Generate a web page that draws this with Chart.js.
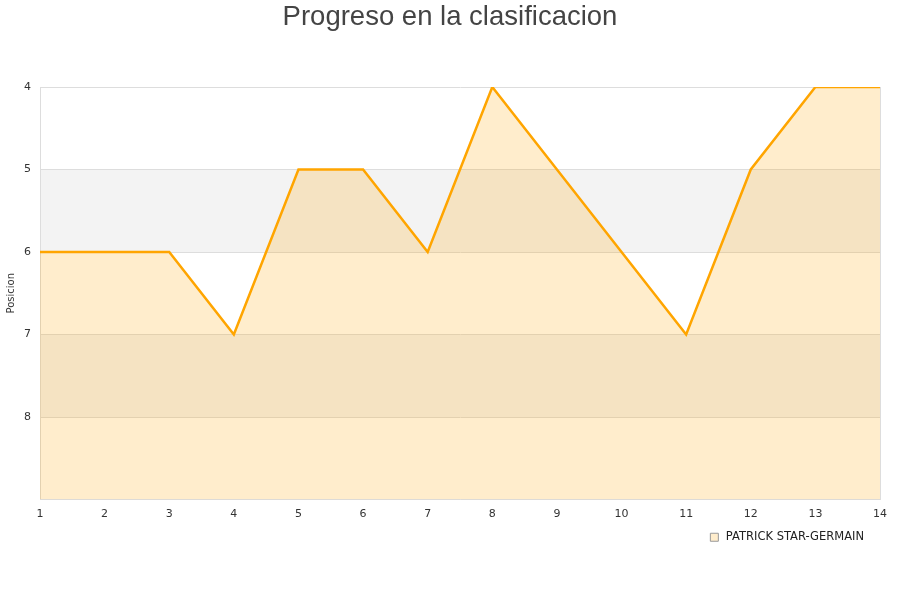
<!DOCTYPE html>
<html><head><meta charset="utf-8">
<script src="https://cdn.jsdelivr.net/npm/chart.js@4/dist/chart.umd.min.js"></script>
<style>html,body{margin:0;padding:0;background:#fff}#w{width:900px;height:600px}</style>
</head><body><div id="w"><canvas id="c" width="900" height="600"></canvas></div>
<script>
const jornadas = [1,2,3,4,5,6,7,8,9,10,11,12,13,14];
const posiciones = [6,6,6,7,5,5,6,4,5,6,7,5,4,4];
const yTicks = [4,5,6,7,8];
const bandas = [[5,6],[7,8]];
const equipo = 'PATRICK STAR-GERMAIN';
const titulo = 'Progreso en la clasificacion';
const ejeY = 'Posicion';

const bandPlugin = {
  id:'bands',
  afterLayout(chart){
    const lg = chart.legend;
    if (lg) { lg.right = lg.right - 28; lg.width = lg.right - lg.left; }
  },
  beforeDraw(chart){
    const {ctx, chartArea:a, scales:{y}} = chart;
    ctx.save();
    ctx.fillStyle = '#f3f3f3';
    bandas.forEach(([f,t])=>{
      const y1 = y.getPixelForValue(f), y2 = y.getPixelForValue(t);
      ctx.fillRect(a.left, Math.min(y1,y2), a.right-a.left, Math.abs(y2-y1));
    });
    ctx.restore();
  },
  afterDraw(chart){
    const {ctx, chartArea:a} = chart;
    ctx.save();
    ctx.strokeStyle = '#dddddd'; ctx.lineWidth = 1;
    ctx.beginPath(); ctx.moveTo(a.right+0.5, a.top); ctx.lineTo(a.right+0.5, a.bottom); ctx.stroke();
    ctx.restore();
  }
};

new Chart(document.getElementById('c'), {
  type:'line',
  data:{
    labels: jornadas,
    datasets:[{
      label: equipo,
      data: jornadas.map((x,i)=>({x, y: posiciones[i]})),
      borderColor:'#FFA500',
      backgroundColor:'rgba(255,165,0,0.2)',
      borderWidth:2.5,
      fill:'start',
      pointRadius:0,
      tension:0,
      yAxisID:'y'
    }]
  },
  options:{
    responsive:false,
    animation:false,
    layout:{padding:{left:0,right:0,top:0,bottom:47}},
    plugins:{
      title:{display:true,text:titulo,color:'#444',font:{family:'Liberation Sans',size:27.5,weight:'normal'},padding:{top:1,bottom:53}},
      legend:{position:'bottom',align:'end',
        labels:{boxWidth:16,boxHeight:8,usePointStyle:true,color:'#222',font:{family:'DejaVu Sans',size:11.5},padding:8,
          generateLabels:(chart)=>chart.data.datasets.map((d,i)=>({
            text:d.label, fillStyle:'rgba(255,165,0,0.2)', strokeStyle:'#999999', lineWidth:1,
            pointStyle:'rect', hidden:false, datasetIndex:i, fontColor:'#222'
          }))
        }},
      tooltip:{enabled:false}
    },
    scales:{
      x:{type:'linear',min:1,max:14,
        ticks:{stepSize:1,color:'#333',font:{family:'DejaVu Sans',size:11},padding:0},
        grid:{display:false},
        border:{display:true,color:'#dddddd'},
        afterFit(s){s.height=24;}
      },
      y:{type:'linear',reverse:true,min:4,max:9,position:'left',
        ticks:{stepSize:1,color:'#333',font:{family:'DejaVu Sans',size:11},padding:9,
          callback:(v)=>yTicks.includes(v)?String(v):''},
        grid:{color:'#dddddd',drawTicks:false},
        border:{display:true,color:'#dddddd'},
        title:{display:true,text:ejeY,color:'#333',font:{family:'DejaVu Sans',size:10},padding:{top:5,bottom:0}},
        afterFit(s){s.width=40;}
      },
      yr:{type:'linear',position:'right',display:true,
        ticks:{display:false},grid:{display:false},border:{display:false},
        afterFit(s){s.width=20;}
      }
    }
  },
  plugins:[bandPlugin]
});
</script></body></html>
